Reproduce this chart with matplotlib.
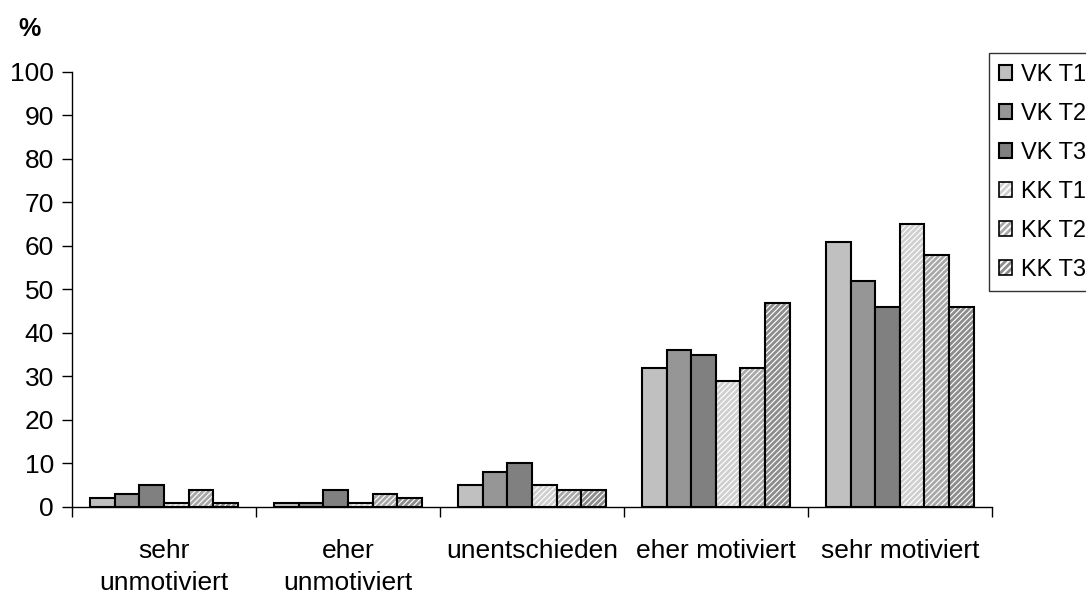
import numpy as np
import matplotlib.pyplot as plt
from matplotlib.legend_handler import HandlerTuple

plt.rcParams['font.family'] = ['Liberation Sans', 'DejaVu Sans']
plt.rcParams['hatch.linewidth'] = 2.0

# categories and values (percent)
categories = ['sehr\nunmotiviert', 'eher\nunmotiviert', 'unentschieden',
              'eher motiviert', 'sehr motiviert']
series_names = ['VK T1', 'VK T2', 'VK T3', 'KK T1', 'KK T2', 'KK T3']
vk_t1 = [2, 1, 5, 32, 61]
vk_t2 = [3, 1, 8, 36, 52]
vk_t3 = [5, 4, 10, 35, 46]
kk_t1 = [1, 1, 5, 29, 65]
kk_t2 = [4, 3, 4, 32, 58]
kk_t3 = [1, 2, 4, 47, 46]
series = [vk_t1, vk_t2, vk_t3, kk_t1, kk_t2, kk_t3]

# fill colours for VK, stripe colours for KK
fills = ['#c0c0c0', '#969696', '#808080', 'white', 'white', 'white']
stripes = [None, None, None, '#cfcfcf', '#a8a8a8', '#8c8c8c']

fig = plt.figure(figsize=(10.86, 5.97), dpi=100)
ax = fig.add_axes([0.0663, 0.1508, 0.8471, 0.7286])

x = np.arange(len(categories))
w = 0.8 / len(series)
handles = []
for i, vals in enumerate(series):
    pos = x + (i - 2.5) * w
    if stripes[i] is None:
        b = ax.bar(pos, vals, w, color=fills[i], edgecolor='black', linewidth=1.5)
        handles.append(b)
    else:
        ax.bar(pos, vals, w, color=fills[i], edgecolor=stripes[i], linewidth=0,
               hatch='//////')
        ax.bar(pos, vals, w, facecolor='none', edgecolor='black', linewidth=1.5)
        h1 = plt.Rectangle((0, 0), 1, 1, facecolor=fills[i], edgecolor=stripes[i],
                           hatch='/////', linewidth=0)
        h2 = plt.Rectangle((0, 0), 1, 1, facecolor='none', edgecolor='black',
                           linewidth=1.2)
        handles.append((h1, h2))

ax.set_ylim(0, 100)
ax.set_yticks(np.arange(0, 101, 10))
ax.set_xlim(-0.5, len(categories) - 0.5)
ax.set_xticks(x)
ax.set_xticklabels(categories, fontsize=19, linespacing=1.45)
ax.tick_params(axis='x', which='major', length=0, pad=23)
ax.set_xticks(np.arange(-0.5, len(categories)), minor=True)
ax.tick_params(axis='x', which='minor', length=7, width=1)
ax.tick_params(axis='y', labelsize=19, length=7, width=1, pad=6)

for s in ['top', 'right']:
    ax.spines[s].set_visible(False)
for s in ['left', 'bottom']:
    ax.spines[s].set_linewidth(1)

fig.text(0.017, 0.94, '%', fontsize=18, fontweight='bold')

leg = fig.legend(handles, series_names, loc='upper left',
                 bbox_to_anchor=(0.9105, 0.911), fontsize=17, frameon=True,
                 fancybox=False, edgecolor='black', handlelength=0.55,
                 handleheight=0.55, handletextpad=0.35, labelspacing=0.72,
                 borderpad=0.45, borderaxespad=0,
                 handler_map={tuple: HandlerTuple(ndivide=1, pad=0)})
leg.get_frame().set_linewidth(1)

plt.savefig('out.png', dpi=100)
